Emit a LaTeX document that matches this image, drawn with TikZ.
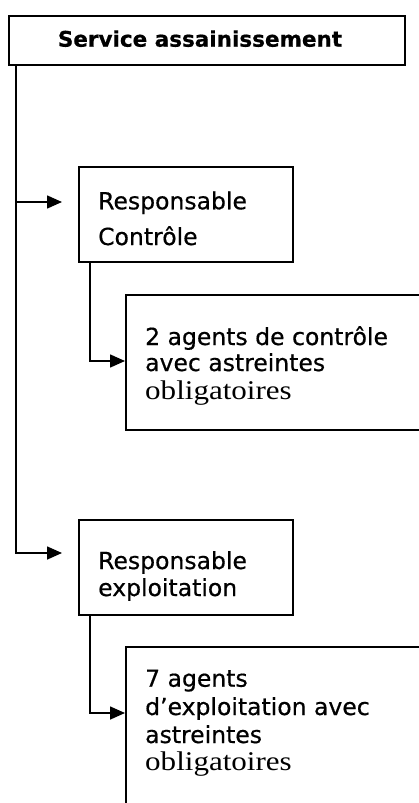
\documentclass[tikz,border=0pt]{standalone}
\usepackage{fontspec}
\setmainfont{DejaVu Sans}
\newfontfamily\bodysans[FakeBold=0.5]{DejaVu Sans}
\newfontfamily\titlesans[FakeBold=0.6]{DejaVu Sans Bold}
\newfontfamily\bodyserif[FakeStretch=1.15]{Liberation Serif}
\usetikzlibrary{arrows.meta}
\begin{document}
\begin{tikzpicture}[x=1pt,y=-1pt,
  boxstyle/.style={draw, line width=1.6pt, inner sep=0pt, anchor=north west},
  titlebox/.style={draw, line width=2pt, inner sep=0pt, anchor=north west},
  txt/.style={inner sep=0pt, anchor=base west, font=\bodysans\fontsize{23.5}{28}\selectfont},
  serif/.style={inner sep=0pt, anchor=base west, font=\bodyserif\fontsize{27}{28}\selectfont},
  conn/.style={line width=1.6pt, -{Triangle[length=15pt,width=13pt]}}]
\useasboundingbox (0,0) rectangle (419,803);
\clip (0,0) rectangle (419,803);
\fill[white] (0,0) rectangle (419,803);
% boxes
\node[titlebox, minimum width=396pt, minimum height=49pt] (top) at (8,15) {};
\node[inner sep=0pt, anchor=base, font=\titlesans\fontsize{21.5}{28}\selectfont] (title) at (200,46.7) {Service assainissement};
\node[boxstyle, minimum width=214pt, minimum height=95pt] (rc) at (78,166) {};
\node[boxstyle, minimum width=330pt, minimum height=135pt] (ac) at (125,294) {};
\node[boxstyle, minimum width=214pt, minimum height=95pt] (re) at (78,519) {};
\node[boxstyle, minimum width=330pt, minimum height=190pt] (ae) at (125,646) {};
% texts
\node[txt] (rc1) at (98,209.3) {Responsable};
\node[txt] (rc2) at (98,245) {Contrôle};
\node[txt] (ac1) at (145,345) {2 agents de contrôle};
\node[txt] (ac2) at (145,371) {avec astreintes};
\node[serif] (ac3) at (145,399) {obligatoires};
\node[txt] (re1) at (98,569) {Responsable};
\node[txt] (re2) at (98,596) {exploitation};
\node[txt] (ae1) at (145,686.7) {7 agents};
\node[txt] (ae2) at (145,715) {d’exploitation avec};
\node[txt] (ae3) at (145,743) {astreintes};
\node[serif] (ae4) at (145,770) {obligatoires};
% connector end points
\coordinate (a1) at (62,202);
\coordinate (a2) at (62,553);
\coordinate (b1) at (125,361);
\coordinate (b2) at (125,713);
% connectors
\draw[conn] ([xshift=8pt]top.south west) |- (a2);
\draw[conn] ([xshift=8pt]top.south west |- a1) -- (a1);
\draw[conn] ([xshift=12pt]rc.south west) |- (b1);
\draw[conn] ([xshift=12pt]re.south west) |- (b2);
\end{tikzpicture}
\end{document}
